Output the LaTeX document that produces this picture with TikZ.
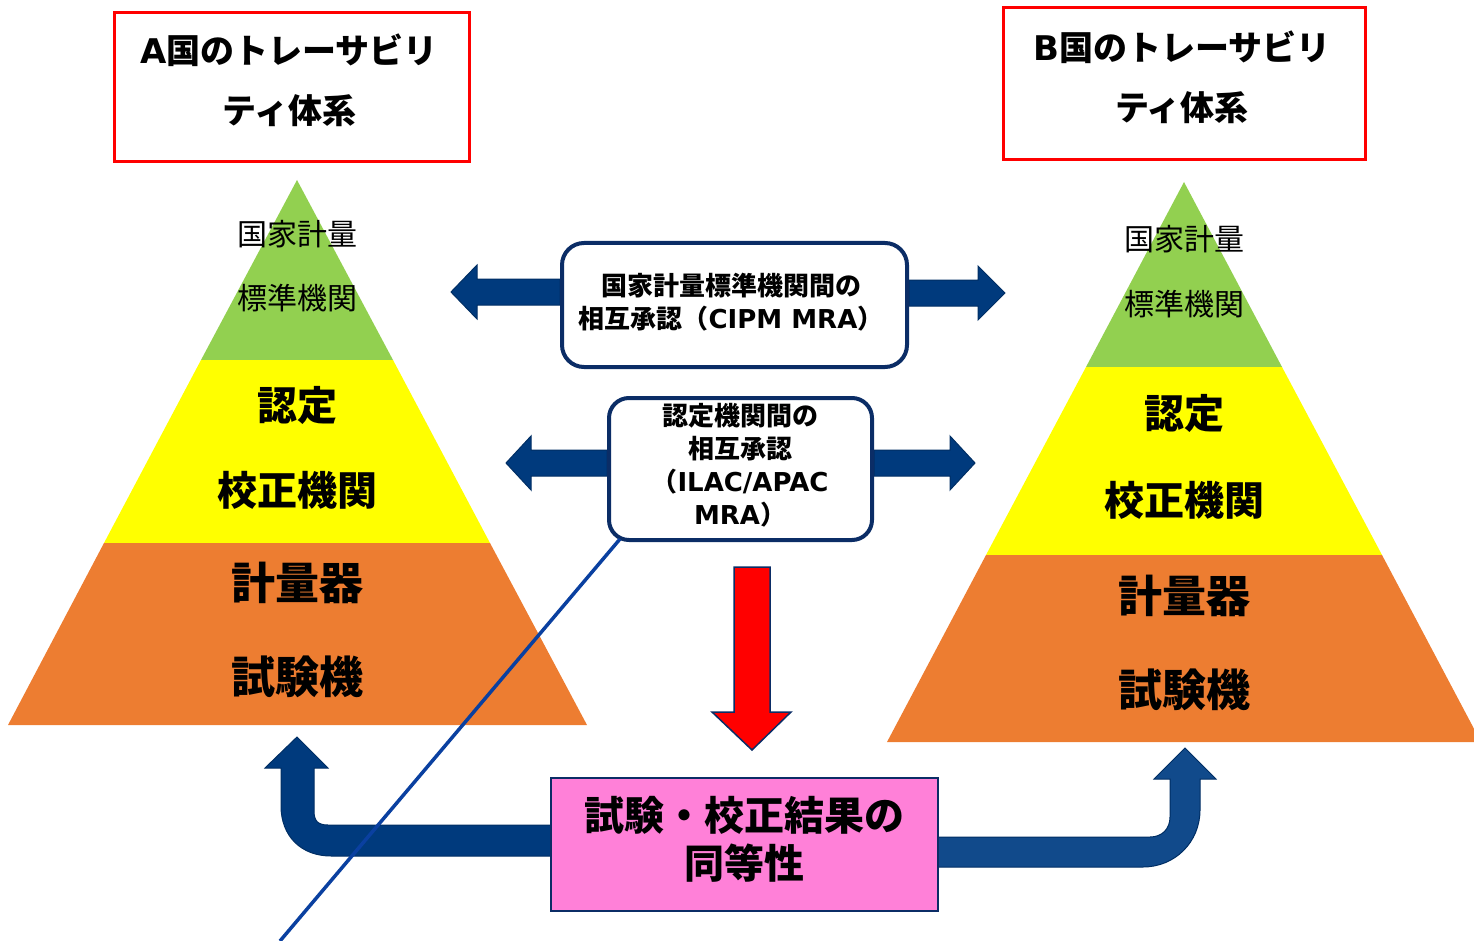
\documentclass[tikz,border=0pt]{standalone}
\usepackage{fontspec}
\setmainfont{Noto Sans CJK JP}
\newfontfamily\lat{DejaVu Sans}
\usetikzlibrary{calc}
\pgfdeclarelayer{bg}\pgfdeclarelayer{fg}\pgfsetlayers{bg,main,fg}
\definecolor{pgreen}{HTML}{92D050}
\definecolor{pyellow}{HTML}{FFFF00}
\definecolor{porange}{HTML}{ED7D31}
\definecolor{navy}{HTML}{0B2D66}
\definecolor{arrowblue}{HTML}{003A7D}
\definecolor{arrowblueB}{HTML}{114A8B}
\definecolor{linkblue}{HTML}{0A40A0}
\definecolor{pinkfill}{HTML}{FF80D8}
\tikzset{
  redbox/.style={draw=red,line width=3pt,fill=white,minimum width=355pt,minimum height=149pt,inner sep=0pt},
  toplabel/.style={font=\fontsize{34}{60}\selectfont\bfseries,align=center,inner sep=0pt},
  mrabox/.style={draw=navy,line width=4pt,fill=white,rounded corners=22pt,inner sep=0pt},
  mratext/.style={inner sep=0pt,align=center,font=\fontsize{26}{33}\selectfont\bfseries},
  pinkbox/.style={draw=navy,line width=2pt,fill=pinkfill,inner sep=0pt},
  pinktext/.style={inner sep=0pt,align=center,font=\fontsize{40}{48}\selectfont\bfseries},
  lvlsmall/.style={font=\fontsize{30}{30}\selectfont,inner sep=0pt},
  lvlmid/.style={font=\fontsize{40}{40}\selectfont\bfseries,inner sep=0pt},
  lvlbig/.style={font=\fontsize{44}{44}\selectfont\bfseries,inner sep=0pt},
  blockarrow/.style={fill=arrowblue,draw=arrowblue!80!black,line width=1pt},
}
\newcommand\harrow[3]{%
  \fill[blockarrow] ($(#1|-#2)+(0,-13)$) -- ($(#2)+(#3,-13)$) -- ($(#2)+(#3,-27)$) -- (#2)
    -- ($(#2)+(#3,27)$) -- ($(#2)+(#3,13)$) -- ($(#1|-#2)+(0,13)$) -- cycle;}
\begin{document}
\begin{tikzpicture}[x=1pt,y=-1pt]
\useasboundingbox (0,0) rectangle (1474,941);
% pyramids
\begin{pgfonlayer}{bg}
\fill[pgreen] (297,180) -- (393,360) -- (201,360) -- cycle;
\fill[pyellow] (201,360) -- (393,360) -- (490,543) -- (104,543) -- cycle;
\fill[porange] (104,543) -- (490,543) -- (587,725) -- (8,725) -- cycle;
\fill[pgreen] (1184,182) -- (1282,367) -- (1086,367) -- cycle;
\fill[pyellow] (1086,367) -- (1282,367) -- (1382,555) -- (986,555) -- cycle;
\fill[porange] (986,555) -- (1382,555) -- (1481,742) -- (887,742) -- cycle;
\end{pgfonlayer}
% pyramid labels
\node[lvlsmall] (a1) at (297,234) {国家計量};
\node[lvlsmall] (a2) at (297,298) {標準機関};
\node[lvlmid] (a3) at (297,405) {認定};
\node[lvlmid] (a4) at (297,490) {校正機関};
\node[lvlbig] (a5) at (297,583) {計量器};
\node[lvlbig] (a6) at (297,677) {試験機};
\node[lvlsmall] (c1) at (1184,239) {国家計量};
\node[lvlsmall] (c2) at (1184,304) {標準機関};
\node[lvlmid] (c3) at (1184,413) {認定};
\node[lvlmid] (c4) at (1184,500) {校正機関};
\node[lvlbig] (c5) at (1184,596) {計量器};
\node[lvlbig] (c6) at (1184,690) {試験機};
% title boxes
\node[redbox] (boxA) at (291.5,87.5) {};
\node[toplabel] (labA) at (289,80) {{\lat A}国のトレーサビリ\\ティ体系};
\node[redbox,minimum width=362pt,minimum height=152pt] (boxB) at (1184,84) {};
\node[toplabel] (labB) at (1182,77) {{\lat B}国のトレーサビリ\\ティ体系};
% MRA boxes
\node[mrabox,minimum width=345pt,minimum height=124pt] (b1) at (734.5,305) {};
\node[mratext] (t1) at (731,302) {国家計量標準機関間の\\相互承認（{\lat CIPM MRA}）};
\node[mrabox,minimum width=263pt,minimum height=142pt,rounded corners=20pt] (b2) at (740.5,469) {};
\node[mratext] (t2) at (740,465.5) {認定機関間の\\相互承認\\（{\lat ILAC/APAC}\\{\lat MRA}）};
\node[pinkbox,minimum width=387pt,minimum height=133pt] (b3) at (744.5,844.5) {};
\node[pinktext] (t3) at (744.5,839) {試験・校正結果の\\同等性};
% horizontal arrows
\coordinate (L1) at (451,292);
\coordinate (R1) at (1005,293);
\coordinate (L2) at (506,463);
\coordinate (R2) at (975,463);
\begin{pgfonlayer}{bg}
\harrow{b1.west}{L1}{26}
\harrow{b1.east}{R1}{-27}
\harrow{b2.west}{L2}{25}
\harrow{b2.east}{R2}{-25}
% U arrows
\coordinate (UL) at (297,737);
\coordinate (UR) at (1185,748);
\fill[blockarrow] ($(b3.west|-0,825)+(5,0)$) -- (328,825) .. controls (318,825) and (314,821) .. (314,811)
  -- (314,768) -- (328,768) -- (UL) -- (265,768) -- (281,768) -- (281,806)
  .. controls (281,836) and (301,856) .. (331,856) -- ($(b3.west|-0,856)+(5,0)$) -- cycle;
\fill[blockarrow,fill=arrowblueB] ($(b3.east|-0,837)+(-5,0)$) -- (1150,837) .. controls (1162,837) and (1170,829) .. (1170,817)
  -- (1170,779) -- (1154,779) -- (UR) -- (1216,779) -- (1200,779) -- (1200,810)
  .. controls (1200,842) and (1175,867) .. (1143,867) -- ($(b3.east|-0,867)+(-5,0)$) -- cycle;
\end{pgfonlayer}
% red arrow
\coordinate (rtop) at (752,567);
\coordinate (rtip) at (752,750);
\fill[red,draw=navy,line width=1.5pt] ($(rtop)+(-18,0)$) -- ($(rtip)+(-18,-38)$) -- ($(rtip)+(-40,-38)$) -- (rtip)
  -- ($(rtip)+(39,-38)$) -- ($(rtip)+(18,-38)$) -- ($(rtop)+(18,0)$) -- cycle;
% thin line
\coordinate (lineend) at (280,941);
\begin{pgfonlayer}{fg}
\draw[linkblue,line width=3.5pt] ($(b2.south west)+(13,-3)$) -- (lineend);
\end{pgfonlayer}
\end{tikzpicture}
\end{document}
